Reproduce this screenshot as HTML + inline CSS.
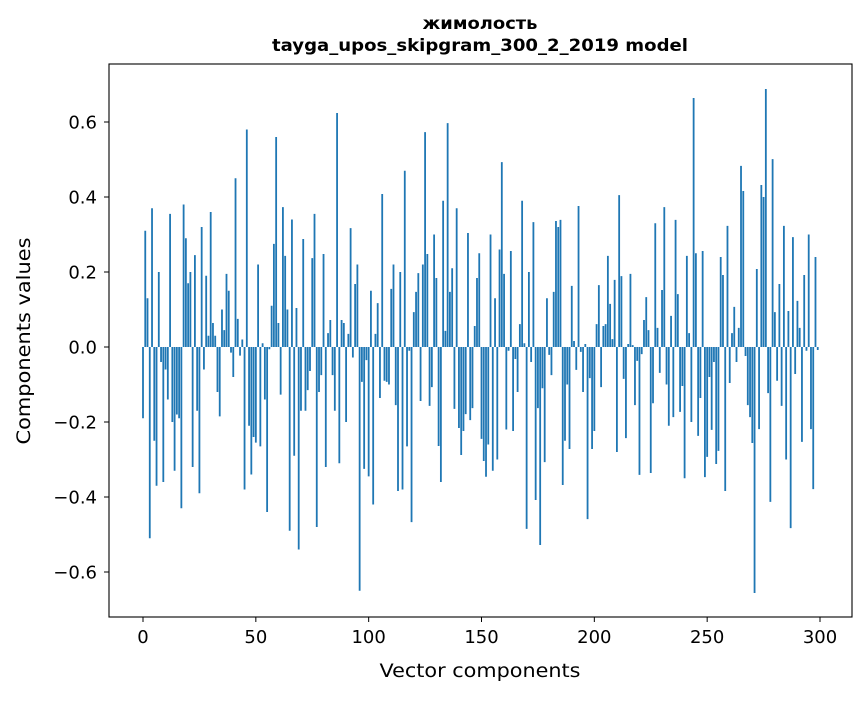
<!DOCTYPE html>
<html><head><meta charset="utf-8"><style>
body{margin:0;background:#fff;}
svg text{font-family:"DejaVu Sans","Liberation Sans",sans-serif;fill:#000;}
</style></head><body>
<svg id="chart" width="867" height="696" xmlns="http://www.w3.org/2000/svg">
<rect width="867" height="696" fill="#fff"/>
<text x="480" y="29" text-anchor="middle" font-size="17" font-weight="bold" textLength="115" lengthAdjust="spacingAndGlyphs">жимолость</text>
<text x="480" y="51" text-anchor="middle" font-size="17" font-weight="bold" textLength="416" lengthAdjust="spacingAndGlyphs">tayga_upos_skipgram_300_2_2019 model</text>
<g id="bars"></g>
<g id="axes"></g>
<rect x="109" y="64" width="743" height="553" fill="none" stroke="#000" stroke-width="1.1"/>
<text x="480" y="677" text-anchor="middle" font-size="19" textLength="201" lengthAdjust="spacingAndGlyphs">Vector components</text>
<text transform="translate(30,341) rotate(-90)" text-anchor="middle" font-size="19" textLength="207" lengthAdjust="spacingAndGlyphs">Components values</text>
</svg>
<script>
const values = [-0.19,0.31,0.13,-0.51,0.37,-0.25,-0.37,0.2,-0.04,-0.36,-0.06,-0.14,0.355,-0.2,-0.33,-0.18,-0.19,-0.43,0.38,0.29,
0.17,0.2,-0.32,0.245,-0.17,-0.39,0.32,-0.06,0.19,0.03,0.36,0.064,0.03,-0.12,-0.185,0.1,0.045,0.195,0.15,-0.015,
-0.08,0.45,0.075,-0.023,0.02,-0.38,0.58,-0.21,-0.34,-0.24,-0.255,0.22,-0.265,0.01,-0.14,-0.44,-0.006,0.11,0.275,0.56,
0.064,-0.127,0.373,0.243,0.1,-0.49,0.34,-0.29,0.104,-0.54,-0.17,0.288,-0.17,-0.115,-0.064,0.237,0.355,-0.48,-0.12,-0.075,
0.248,-0.32,0.037,0.072,-0.075,-0.17,0.624,-0.31,0.072,0.064,-0.2,0.035,0.317,-0.028,0.168,0.22,-0.65,-0.093,-0.325,-0.035,
-0.345,0.15,-0.42,0.035,0.117,-0.136,0.408,-0.09,-0.093,-0.1,0.155,0.22,-0.155,-0.384,0.2,-0.38,0.47,-0.265,-0.01,-0.467,
0.093,0.147,0.197,-0.144,0.22,0.573,0.248,-0.157,-0.107,0.3,0.184,-0.264,-0.36,0.39,0.043,0.597,0.147,0.21,-0.165,0.37,
-0.216,-0.288,-0.224,-0.179,0.304,-0.195,-0.163,0.056,0.184,0.25,-0.245,-0.304,-0.346,-0.26,0.3,-0.33,0.13,-0.3,0.26,0.493,
0.195,-0.22,-0.01,0.256,-0.224,-0.032,-0.12,0.061,0.39,0.01,-0.485,0.2,-0.04,0.333,-0.408,-0.163,-0.528,-0.11,-0.307,0.13,
-0.021,-0.075,0.147,0.336,0.32,0.339,-0.368,-0.25,-0.1,-0.272,0.163,0.016,-0.061,0.376,-0.013,-0.12,0.008,-0.459,-0.083,-0.272,
-0.224,0.061,0.165,-0.107,0.056,0.061,0.243,0.115,0.021,0.179,-0.28,0.405,0.189,-0.085,-0.243,0.008,0.195,0.005,-0.155,-0.037,
-0.341,-0.019,0.072,0.133,0.045,-0.336,-0.15,0.33,0.051,-0.069,0.152,0.373,-0.1,-0.21,0.083,-0.187,0.339,0.141,-0.173,-0.104,
-0.35,0.243,0.037,-0.2,0.664,0.25,-0.237,-0.136,0.256,-0.347,-0.293,-0.08,-0.221,-0.04,-0.312,-0.277,0.24,0.192,-0.384,0.323,
-0.096,0.037,0.107,-0.04,0.051,0.483,0.416,-0.024,-0.155,-0.187,-0.256,-0.656,0.208,-0.219,0.432,0.4,0.688,-0.123,-0.413,0.501,
0.093,-0.09,0.168,-0.157,0.323,-0.3,0.096,-0.483,0.293,-0.072,0.123,0.051,-0.253,0.192,-0.01,0.3,-0.219,-0.379,0.24,-0.008];
const xTicks = [0,50,100,150,200,250,300];
const yTicks = [-0.6,-0.4,-0.2,0.0,0.2,0.4,0.6];
const yTickLabels = ["−0.6","−0.4","−0.2","0.0","0.2","0.4","0.6"];

const NS="http://www.w3.org/2000/svg";
function xs(v){return 143 + v*(677/300);}
function ys(v){return 347 - v*375;}
const bars=document.getElementById('bars');
values.forEach((v,i)=>{
  const r=document.createElementNS(NS,'rect');
  const x0=xs(i-0.4), x1=xs(i+0.4);
  const y0=Math.min(ys(v),ys(0)), h=Math.abs(ys(v)-ys(0));
  r.setAttribute('x',x0);r.setAttribute('width',x1-x0);
  r.setAttribute('y',y0);r.setAttribute('height',Math.max(h,0.3));
  r.setAttribute('fill','#1f77b4');
  
  
  bars.appendChild(r);
});
const axes=document.getElementById('axes');
xTicks.forEach(t=>{
  const l=document.createElementNS(NS,'line');
  l.setAttribute('x1',xs(t));l.setAttribute('x2',xs(t));l.setAttribute('y1',617);l.setAttribute('y2',622);
  l.setAttribute('stroke','#000');
  
  
  axes.appendChild(l);
  const tx=document.createElementNS(NS,'text');
  tx.setAttribute('x',xs(t));tx.setAttribute('y',643);tx.setAttribute('text-anchor','middle');tx.setAttribute('font-size','18');
  tx.textContent=t;
  
  
  axes.appendChild(tx);
});
yTicks.forEach((t,k)=>{
  const l=document.createElementNS(NS,'line');
  l.setAttribute('x1',104);l.setAttribute('x2',109);l.setAttribute('y1',ys(t));l.setAttribute('y2',ys(t));
  l.setAttribute('stroke','#000');
  
  
  axes.appendChild(l);
  const tx=document.createElementNS(NS,'text');
  tx.setAttribute('x',97);tx.setAttribute('y',ys(t)+6.5);tx.setAttribute('text-anchor','end');tx.setAttribute('font-size','18');
  tx.textContent=yTickLabels[k];
  
  
  axes.appendChild(tx);
});
</script>
</body></html>
